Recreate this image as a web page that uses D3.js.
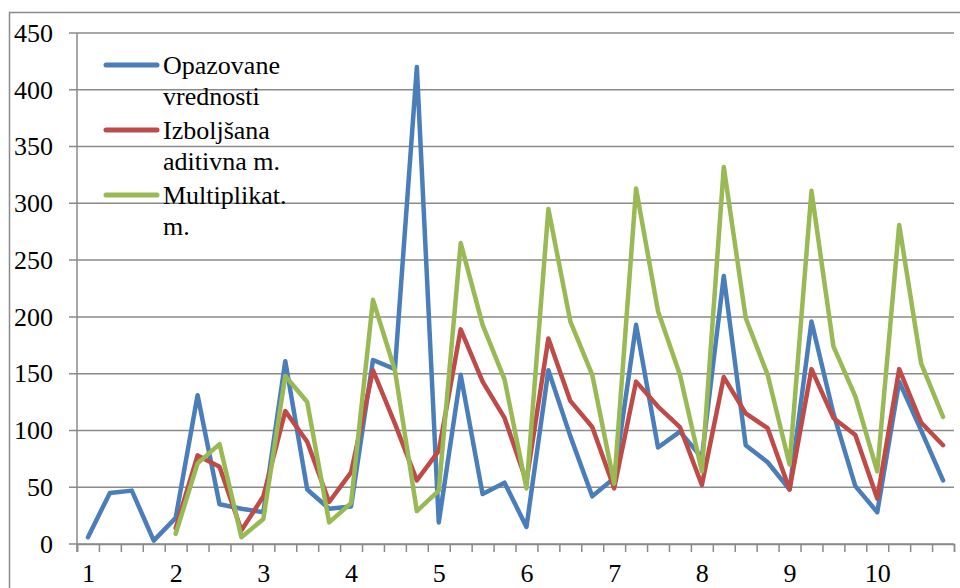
<!DOCTYPE html>
<html>
<head>
<meta charset="utf-8">
<script src="https://cdn.jsdelivr.net/npm/d3@7"></script>
<style>
  html, body { margin: 0; padding: 0; background: #fff; }
  svg { display: block; }
  .lbl { font-family: "Liberation Serif", "Tinos", "FreeSerif", "Noto Serif", serif !important; font-size: 26px !important; fill: #000; }
</style>
</head>
<body>
<svg id="s" width="960" height="588"></svg>
<script>
// Quarterly observations over ten years, with two fitted seasonal models
const yearLabels = ["1", "2", "3", "4", "5", "6", "7", "8", "9", "10"];
const quartersPerYear = 4;

const observed = [6, 45, 47, 3, 23, 131, 35, 31, 28, 161, 48, 31, 33, 162, 154, 420,
  19, 149, 44, 54, 15, 153, 95, 42, 58, 193, 85, 99, 76, 236, 87, 72, 48, 196, 115, 51,
  28, 143, 100, 56];
const additive = [null, null, null, null, 14, 78, 68, 12, 42, 117, 90, 37, 63, 153, 106, 56,
  82, 189, 143, 111, 55, 181, 126, 103, 49, 143, 121, 103, 52, 147, 115, 102, 48, 154, 111, 96,
  40, 154, 107, 87];
const multiplicative = [null, null, null, null, 9, 71, 88, 6, 22, 148, 125, 19, 36, 215, 153, 29,
  47, 265, 193, 145, 49, 295, 196, 149, 53, 313, 205, 149, 64, 332, 199, 149, 70, 311, 174, 130,
  64, 281, 159, 112];

const yTicks = [0, 50, 100, 150, 200, 250, 300, 350, 400, 450];

const seriesNames = [["Opazovane", "vrednosti"], ["Izboljšana", "aditivna m."], ["Multiplikat.", "m."]];
const seriesColors = ["#4a7ebb", "#be4b48", "#98b954"];
const seriesData = [observed, additive, multiplicative];

const svg = d3.select("#s");
const plotLeft = 77, plotRight = 954, plotTop = 33, plotBottom = 544;
const n = observed.length;

// chart frame
svg.append("rect")
  .attr("x", 9.5).attr("y", 12.5)
  .attr("width", 980).attr("height", 620)
  .attr("fill", "none").attr("stroke", "#8a8a8a").attr("stroke-width", 1.5);

const x = d3.scaleLinear().domain([-0.5, n - 0.5]).range([plotLeft, plotRight]);
const y = d3.scaleLinear().domain([0, 450]).range([plotBottom, plotTop]);

// horizontal gridlines, stubbing out past the value axis
svg.append("g").selectAll("line")
  .data(yTicks)
  .join("line")
  .attr("x1", plotLeft - 8).attr("x2", plotRight)
  .attr("y1", d => y(d)).attr("y2", d => y(d))
  .attr("stroke", "#8a8a8a").attr("stroke-width", 1.5);

// value axis labels
const yAxis = svg.append("g")
  .attr("transform", `translate(${plotLeft},0)`)
  .call(d3.axisLeft(y).tickValues(yTicks).tickSize(0).tickPadding(24));
yAxis.select(".domain").remove();
yAxis.attr("font-family", null).attr("font-size", null);
yAxis.selectAll("text").attr("class", "lbl");

// vertical axis line
svg.append("line")
  .attr("x1", plotLeft).attr("x2", plotLeft)
  .attr("y1", plotTop).attr("y2", plotBottom + 8)
  .attr("stroke", "#8a8a8a").attr("stroke-width", 1.5);

// category axis: ticks between quarters
const boundaries = d3.range(n + 1).map(i => i - 0.5);
const xTicks = svg.append("g")
  .attr("transform", `translate(0,${plotBottom})`)
  .call(d3.axisBottom(x).tickValues(boundaries).tickSize(8).tickFormat(""));
xTicks.select(".domain").attr("stroke", "#8a8a8a").attr("stroke-width", 1.5);
xTicks.selectAll(".tick line").attr("stroke", "#8a8a8a").attr("stroke-width", 1.5);

// year labels at the first quarter of each year
const labelIdx = yearLabels.map((_, i) => i * quartersPerYear);
const xLabels = svg.append("g")
  .attr("transform", `translate(0,${plotBottom})`)
  .call(d3.axisBottom(x).tickValues(labelIdx).tickSize(0).tickPadding(20)
    .tickFormat((d, i) => yearLabels[i]));
xLabels.select(".domain").remove();
xLabels.attr("font-family", null).attr("font-size", null);
xLabels.selectAll("text").attr("class", "lbl");

// series lines
const line = d3.line()
  .defined(d => d != null)
  .x((d, i) => x(i))
  .y(d => y(d));

seriesData.forEach((data, k) => {
  svg.append("path")
    .datum(data)
    .attr("fill", "none")
    .attr("stroke", seriesColors[k])
    .attr("stroke-width", 4.5)
    .attr("stroke-linejoin", "round")
    .attr("stroke-linecap", "round")
    .attr("d", line);
});

// legend
const legend = svg.append("g");
seriesNames.forEach((lines, k) => {
  const base = 74 + k * 65;
  legend.append("line")
    .attr("x1", 106).attr("x2", 157)
    .attr("y1", base - 9).attr("y2", base - 9)
    .attr("stroke", seriesColors[k]).attr("stroke-width", 5)
    .attr("stroke-linecap", "round");
  lines.forEach((s, j) => {
    legend.append("text")
      .attr("class", "lbl")
      .attr("x", 163).attr("y", base + j * 30.5)
      .text(s);
  });
});
</script>
</body>
</html>
